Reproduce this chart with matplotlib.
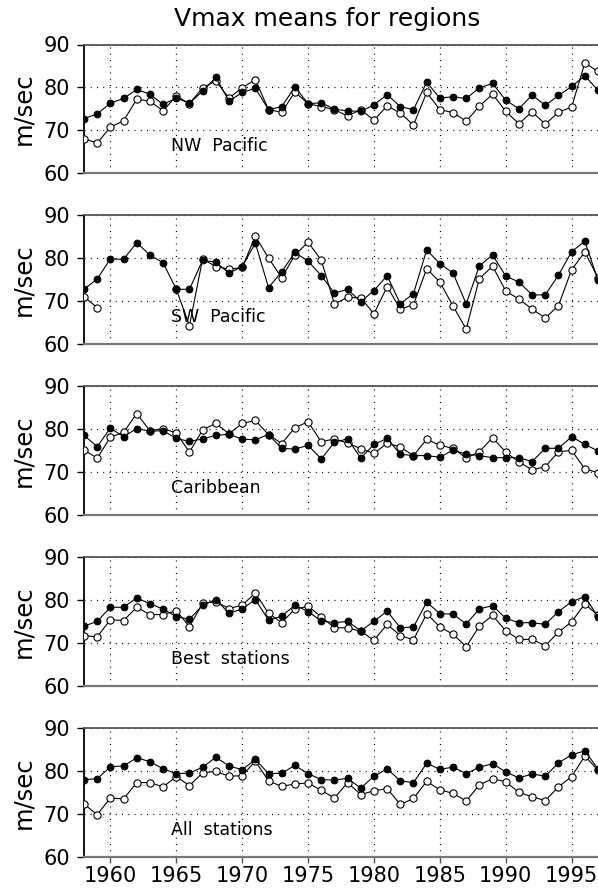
import numpy as np
import matplotlib.pyplot as plt

years = np.arange(1958, 1998)
nan = np.nan

# filled circles / open circles for each region
nw_filled = [72.7, 73.8, 76.3, 77.4, 79.5, 78.4, 76.0, 77.5, 76.3, 79.1,
             82.3, 76.8, 78.8, 79.8, 74.8, 75.5, 80.1, 76.2, 76.4, 74.9,
             74.5, 74.4, 75.9, 78.3, 75.5, 74.8, 81.2, 77.5, 77.8, 77.4,
             79.9, 80.9, 77.0, 75.0, 78.2, 75.8, 78.1, 80.2, 82.7, 79.3]
nw_open = [68.0, 67.0, 70.7, 72.2, 77.2, 76.8, 74.5, 78.0, 76.2, 79.9,
           81.5, 77.5, 79.9, 81.8, 74.8, 74.2, 78.9, 76.2, 75.5, 74.8,
           73.3, 74.8, 72.3, 75.7, 74.0, 71.2, 78.8, 74.8, 74.1, 72.1,
           75.6, 78.4, 74.4, 71.5, 74.3, 71.4, 74.2, 75.4, 85.7, 83.7]

sw_filled = [72.7, 75.1, 79.8, 79.7, 83.6, 80.7, 78.9, 72.7, 72.7, 79.5,
             79.0, 76.5, 78.0, 83.5, 73.1, 76.8, 81.3, 79.3, 75.9, 71.8,
             72.7, 69.8, 72.4, 75.9, 69.3, 71.7, 81.9, 78.7, 76.5, 69.3,
             78.2, 80.7, 75.8, 74.4, 71.4, 71.4, 76.0, 81.5, 83.9, 74.8]
sw_open = [71.0, 68.4, nan, nan, nan, nan, nan, 72.7, 64.2, 79.8,
           78.0, 77.4, 77.8, 85.1, 80.0, 75.4, 80.7, 83.7, 79.5, 69.3,
           70.8, 70.7, 67.0, 73.3, 68.1, 69.1, 77.5, 74.4, 68.8, 63.4,
           75.2, 78.1, 72.3, 70.4, 68.1, 66.0, 68.9, 77.3, 81.4, 75.4]

car_filled = [78.5, 75.9, 80.2, 78.2, 80.1, 79.5, 79.6, 77.8, 77.1, 77.7,
              78.5, 78.8, 77.6, 77.5, 78.7, 75.5, 75.3, 76.2, 73.0, 76.9,
              77.7, 73.2, 76.4, 77.8, 74.1, 73.8, 73.8, 73.4, 75.1, 74.1,
              73.8, 73.3, 73.3, 73.3, 72.4, 75.5, 75.5, 78.2, 76.4, 74.9]
car_open = [75.1, 73.2, 78.1, 79.2, 83.6, 79.6, 80.1, 79.1, 74.6, 79.8,
            81.3, 78.9, 81.3, 82.0, 78.7, 76.6, 80.3, 81.7, 77.0, 77.7,
            76.7, 75.4, 74.3, 76.7, 75.8, 73.8, 77.6, 76.2, 75.5, 73.2,
            74.7, 78.0, 74.6, 72.3, 70.5, 71.2, 74.7, 75.0, 70.7, 69.8]

best_filled = [73.9, 75.0, 78.3, 78.3, 80.5, 79.1, 77.9, 76.1, 75.5, 78.8,
               80.1, 76.9, 77.9, 80.1, 75.3, 76.2, 78.8, 77.3, 75.1, 74.7,
               75.0, 72.8, 75.0, 77.4, 73.5, 73.7, 79.5, 76.8, 76.7, 74.4,
               77.9, 78.7, 75.7, 74.7, 74.7, 74.3, 77.3, 79.6, 80.8, 76.1]
best_open = [71.7, 71.4, 75.4, 75.2, 78.3, 76.6, 76.6, 77.5, 73.8, 79.2,
             79.6, 78.0, 78.8, 81.6, 76.9, 74.7, 77.9, 78.5, 76.1, 73.5,
             73.5, 72.7, 70.6, 74.3, 71.7, 70.7, 76.8, 73.7, 72.0, 69.1,
             73.9, 76.4, 72.8, 70.8, 70.8, 69.3, 72.5, 74.9, 79.1, 76.4]

all_filled = [78.0, 78.2, 81.0, 81.2, 83.1, 82.2, 80.5, 79.4, 79.5, 80.9,
              83.2, 81.2, 80.3, 82.7, 79.4, 79.5, 81.3, 79.4, 78.0, 77.9,
              78.3, 76.0, 78.8, 80.5, 77.7, 77.3, 81.8, 80.4, 80.9, 79.4,
              80.9, 81.7, 79.8, 78.4, 79.3, 78.8, 81.9, 83.8, 84.7, 80.5]
all_open = [72.3, 69.8, 73.7, 73.5, 77.3, 77.3, 76.3, 78.7, 76.6, 79.6,
            79.9, 78.8, 78.9, 82.3, 77.7, 76.4, 77.0, 77.2, 75.5, 73.7,
            77.3, 74.5, 75.4, 75.9, 72.2, 73.6, 77.6, 75.6, 74.8, 73.0,
            76.8, 78.2, 77.5, 75.0, 74.0, 73.1, 76.3, 78.7, 83.5, 80.2]

region_names = ['NW  Pacific', 'SW  Pacific', 'Caribbean', 'Best  stations', 'All  stations']
filled_series = [nw_filled, sw_filled, car_filled, best_filled, all_filled]
open_series = [nw_open, sw_open, car_open, best_open, all_open]

plt.rcParams['font.family'] = 'DejaVu Sans'

fig = plt.figure(figsize=(5.98, 8.9), dpi=100)

bottoms = [0.8056, 0.6138, 0.4217, 0.2296, 0.0374]
height = 0.1444

for i in range(5):
    ax = fig.add_axes([0.1405, bottoms[i], 0.8595, height])
    ax.plot(years, open_series[i], color='black', lw=0.8, marker='o',
            ms=5.2, mfc='white', mec='black', mew=0.8, zorder=3)
    ax.plot(years, filled_series[i], color='black', lw=0.8, marker='o',
            ms=4.8, mfc='black', mec='black', mew=0.8, zorder=4)

    ax.set_xlim(1958, 1997)
    ax.set_ylim(60, 90)
    ax.set_yticks([60, 70, 80, 90])
    ax.set_xticks(np.arange(1960, 1996, 5))
    ax.grid(True, color='black', lw=0.9, linestyle=(0, (0.8, 4.2)))
    ax.set_axisbelow(True)

    ax.spines['right'].set_visible(False)
    ax.spines['left'].set_color('black')
    ax.spines['left'].set_linewidth(1.3)
    ax.spines['top'].set_color('#555555')
    ax.spines['top'].set_linewidth(1.3)
    ax.spines['bottom'].set_color('#777777')
    ax.spines['bottom'].set_linewidth(1.6)

    ax.tick_params(axis='y', direction='out', length=5, width=1.0,
                   labelsize=15, pad=5)
    ax.tick_params(axis='x', direction='out', length=4, width=1.0,
                   labelsize=15, pad=3, color='#555555')
    if i < 4:
        ax.tick_params(axis='x', labelbottom=False, length=0)

    ax.set_ylabel('m/sec', fontsize=17.5)
    ax.yaxis.set_label_coords(-0.095, 0.5)

    ax.text(1964.6, 66.3, region_names[i], fontsize=12.5, va='center', ha='left')

fig.text(0.547, 0.979, 'Vmax means for regions', fontsize=18, ha='center', va='center')

fig.savefig('out.png', dpi=100)
